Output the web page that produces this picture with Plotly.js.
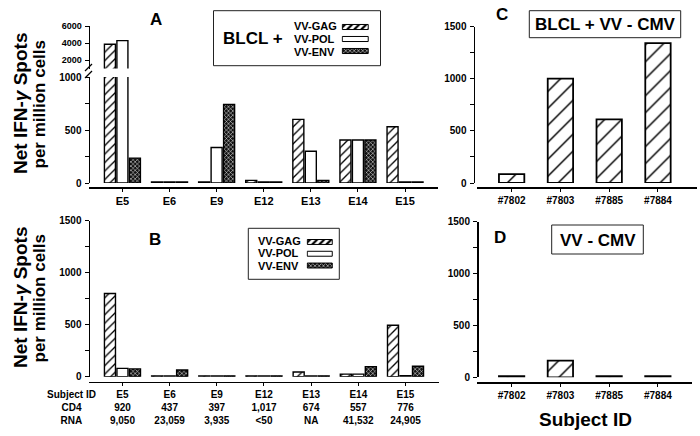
<!DOCTYPE html>
<html><head><meta charset="utf-8">
<script src="https://cdn.plot.ly/plotly-3.0.1.min.js"></script>
<style>html,body{margin:0;padding:0;background:#fff}</style>
</head><body><div id="chart" style="width:700px;height:436px"></div>
<script>
// ---------- data ----------
const subjectsHIV = ['E5','E6','E9','E12','E13','E14','E15'];
const gagA = [3850, 10, 10, 25, 600, 405, 530];
const polA = [4280, 10, 335, 10, 300, 405, 10];
const envA = [235, 10, 740, 10, 25, 405, 10];
const gagB = [800, 8, 8, 8, 45, 25, 495];
const polB = [80, 8, 8, 8, 8, 25, 10];
const envB = [75, 65, 8, 8, 8, 97, 100];
const cd4 = ['920','437','397','1,017','674','557','776'];
const rna = ['9,050','23,059','3,935','&lt;50','NA','41,532','24,905'];
const subjectsCMV = ['#7802','#7803','#7885','#7884'];
const cmvC = [85, 1000, 610, 1340];
const cmvD = [10, 160, 10, 10];
const seriesNames = ['VV-GAG','VV-POL','VV-ENV'];
const swatchLen = [1, 1, 1];

// ---------- helpers ----------
const W = 700, H = 436;
const fx = p => p / W;
const fy = p => 1 - p / H;
const FONT = 'Liberation Sans, Arial, Helvetica, sans-serif';

const gagMarker = (size, sol, lw) => ({color: '#fff', line: {color: '#000', width: lw},
  pattern: {shape: '/', fgcolor: '#000', bgcolor: '#fff', size: size, solidity: sol}});
const polMarker = (lw) => ({color: '#fff', line: {color: '#000', width: lw}});
const envMarker = (lw) => ({color: '#000', line: {color: '#000', width: lw},
  pattern: {shape: 'x', fgcolor: '#fff', bgcolor: '#111', size: 3, solidity: 0.3}});

const BW = 0.234, OFF = [-0.382, -0.117, 0.148];
const traces = [];
function groupTraces(vals, xa, ya, gsize) {
  const markers = [gagMarker(gsize, 0.22, 1.4), polMarker(1.4), envMarker(1.4)];
  vals.forEach((v, i) => traces.push({type: 'bar', x: subjectsHIV, y: v, xaxis: xa, yaxis: ya,
    name: seriesNames[i], width: BW, offset: OFF[i], marker: markers[i], showlegend: false, hoverinfo: 'skip'}));
}
// Panel A (lower and upper broken segments) and B
groupTraces([gagA, polA, envA], 'x', 'y', 6);
groupTraces([gagA, polA, envA], 'x', 'y2', 6);
groupTraces([gagB, polB, envB], 'x2', 'y3', 6);
// Panels C and D
traces.push({type: 'bar', x: subjectsCMV, y: cmvC, xaxis: 'x3', yaxis: 'y4', width: 0.52,
  marker: gagMarker(12, 0.12, 1.8), showlegend: false, hoverinfo: 'skip'});
traces.push({type: 'bar', x: subjectsCMV, y: cmvD, xaxis: 'x4', yaxis: 'y5', width: 0.52,
  marker: gagMarker(12, 0.12, 1.8), showlegend: false, hoverinfo: 'skip'});
// Legend swatches (mini subplots)
const swMarkers = [gagMarker(5, 0.45, 1), polMarker(1), envMarker(1)];
[['x5','y6'],['x6','y7']].forEach(([xa, ya]) => {
  seriesNames.forEach((n, i) => traces.push({type: 'bar', orientation: 'h', x: [swatchLen[i]], y: [n],
    xaxis: xa, yaxis: ya, width: 0.42, marker: swMarkers[i], showlegend: false, hoverinfo: 'skip'}));
});

const tickFont = (s) => ({family: FONT, size: s, color: '#000', weight: 'bold'});
const baseX = (dom, range, pos, extra) => Object.assign({domain: dom, range: range, anchor: 'free', position: pos,
  type: 'category', showline: true, linecolor: '#000', linewidth: 1.5, ticks: 'outside', ticklen: 3,
  tickcolor: '#000', showgrid: false, zeroline: false, tickfont: tickFont(11), fixedrange: true}, extra || {});
const baseY = (dom, range, pos, tv, extra) => Object.assign({domain: dom, range: range, anchor: 'free', position: pos,
  showline: true, linecolor: '#000', linewidth: 1.5, ticks: 'outside', ticklen: 4, tickcolor: '#000',
  tickvals: tv, showgrid: false, zeroline: false, tickfont: tickFont(10), ticklabelstandoff: 1, fixedrange: true}, extra || {});
const minor250 = {minor: {dtick: 250, ticks: 'outside', ticklen: 4, tickcolor: '#000', showgrid: false}};

const xTableText = subjectsHIV.map((s, i) => s + '<br>' + cd4[i] + '<br>' + rna[i]);
const hidden = {visible: false, fixedrange: true};

const layout = {
  width: W, height: H, margin: {l: 0, r: 0, t: 0, b: 0},
  paper_bgcolor: '#fff', plot_bgcolor: 'rgba(0,0,0,0)', showlegend: false,
  font: {family: FONT, color: '#000'},
  xaxis: baseX([fx(88.5), fx(438)], [-0.72, 6.7], fy(187)),
  yaxis: baseY([fy(183), fy(77)], [0, 1000], fx(88.5), [0, 500, 1000], minor250),
  yaxis2: baseY([fy(68.5), fy(26)], [1000, 6000], fx(88.5), [2000, 4000, 6000], {tickfont: tickFont(9)}),
  xaxis2: baseX([fx(88.5), fx(439)], [-0.72, 6.71], fy(381.7),
    {tickvals: subjectsHIV, ticktext: xTableText, tickfont: tickFont(10)}),
  yaxis3: baseY([fy(376.7), fy(220.7)], [0, 1500], fx(88.5), [0, 500, 1000, 1500], minor250),
  xaxis3: baseX([fx(477), fx(697)], [-0.71, 3.8], fy(187), {tickfont: tickFont(10)}),
  yaxis4: baseY([fy(183), fy(26.5)], [0, 1500], fx(473.5), [0, 500, 1000, 1500], minor250),
  xaxis4: baseX([fx(477), fx(692)], [-0.71, 3.7], fy(382.3), {tickfont: tickFont(10)}),
  yaxis5: baseY([fy(377.3), fy(221.7)], [0, 1500], fx(477), [0, 500, 1000, 1500], minor250),
  xaxis5: Object.assign({domain: [fx(341.5), fx(369)], range: [-0.03, 1.03], anchor: 'y6'}, hidden),
  yaxis6: Object.assign({domain: [fy(57), fy(21)], range: [2.5, -0.5], type: 'category', anchor: 'x5'}, hidden),
  xaxis6: Object.assign({domain: [fx(306.5), fx(333)], range: [-0.03, 1.03], anchor: 'y7'}, hidden),
  yaxis7: Object.assign({domain: [fy(271.4), fy(236.1)], range: [2.5, -0.5], type: 'category', anchor: 'x6'}, hidden),
  annotations: [],
  shapes: []
};

function ann(text, px, py, size, opts) {
  layout.annotations.push(Object.assign({text: text, xref: 'paper', yref: 'paper', x: fx(px), y: fy(py),
    xanchor: 'center', yanchor: 'middle', showarrow: false,
    font: {family: FONT, size: size, color: '#000', weight: 'bold'}}, opts || {}));
}
function box(x0, y0, x1, y1) {
  layout.shapes.push({type: 'rect', xref: 'paper', yref: 'paper', x0: fx(x0), x1: fx(x1), y0: fy(y0), y1: fy(y1),
    line: {color: '#222', width: 1}, fillcolor: 'rgba(0,0,0,0)'});
}
function seg(x0, y0, x1, y1) {
  layout.shapes.push({type: 'line', xref: 'paper', yref: 'paper', x0: fx(x0), x1: fx(x1), y0: fy(y0), y1: fy(y1),
    line: {color: '#000', width: 1.3}});
}

// panel letters
ann('A', 155.5, 19, 17); ann('B', 155, 239, 17); ann('C', 501.7, 15, 17); ann('D', 499.7, 238, 17);
// y titles
[104, 298].forEach(cy => {
  ann('Net IFN-<i>γ</i> Spots', 20, cy, 19, {textangle: -90});
  ann('per million cells', 38.5, cy, 17, {textangle: -90});
});
// legend A
box(213.5, 10.7, 380.5, 65.7);
ann('BLCL +', 253.3, 39, 17);
[25.7, 39.3, 52.3].forEach((py, i) => ann(seriesNames[i], 291.7, py, 11, {xanchor: 'left'}));
// legend B
box(248.3, 228.3, 339.3, 279.3);
[241, 253.3, 266].forEach((py, i) => ann(seriesNames[i], 255.7, py, 11, {xanchor: 'left'}));
// C and D labels
box(529.3, 10.7, 680.7, 37.7);
ann('BLCL + VV - CMV', 605, 24.5, 17);
box(551.7, 225, 643.3, 254);
ann('VV - CMV', 597.5, 240, 17);
ann('Subject ID', 585, 419, 19);
// table row labels
ann('Subject ID<br>CD4<br>RNA', 71, 407.5, 10);
// axis break marks
seg(85, 71, 92, 64);
seg(85, 78, 92, 71);

Plotly.newPlot('chart', traces, layout, {staticPlot: true, displayModeBar: false});
</script>
</body></html>
